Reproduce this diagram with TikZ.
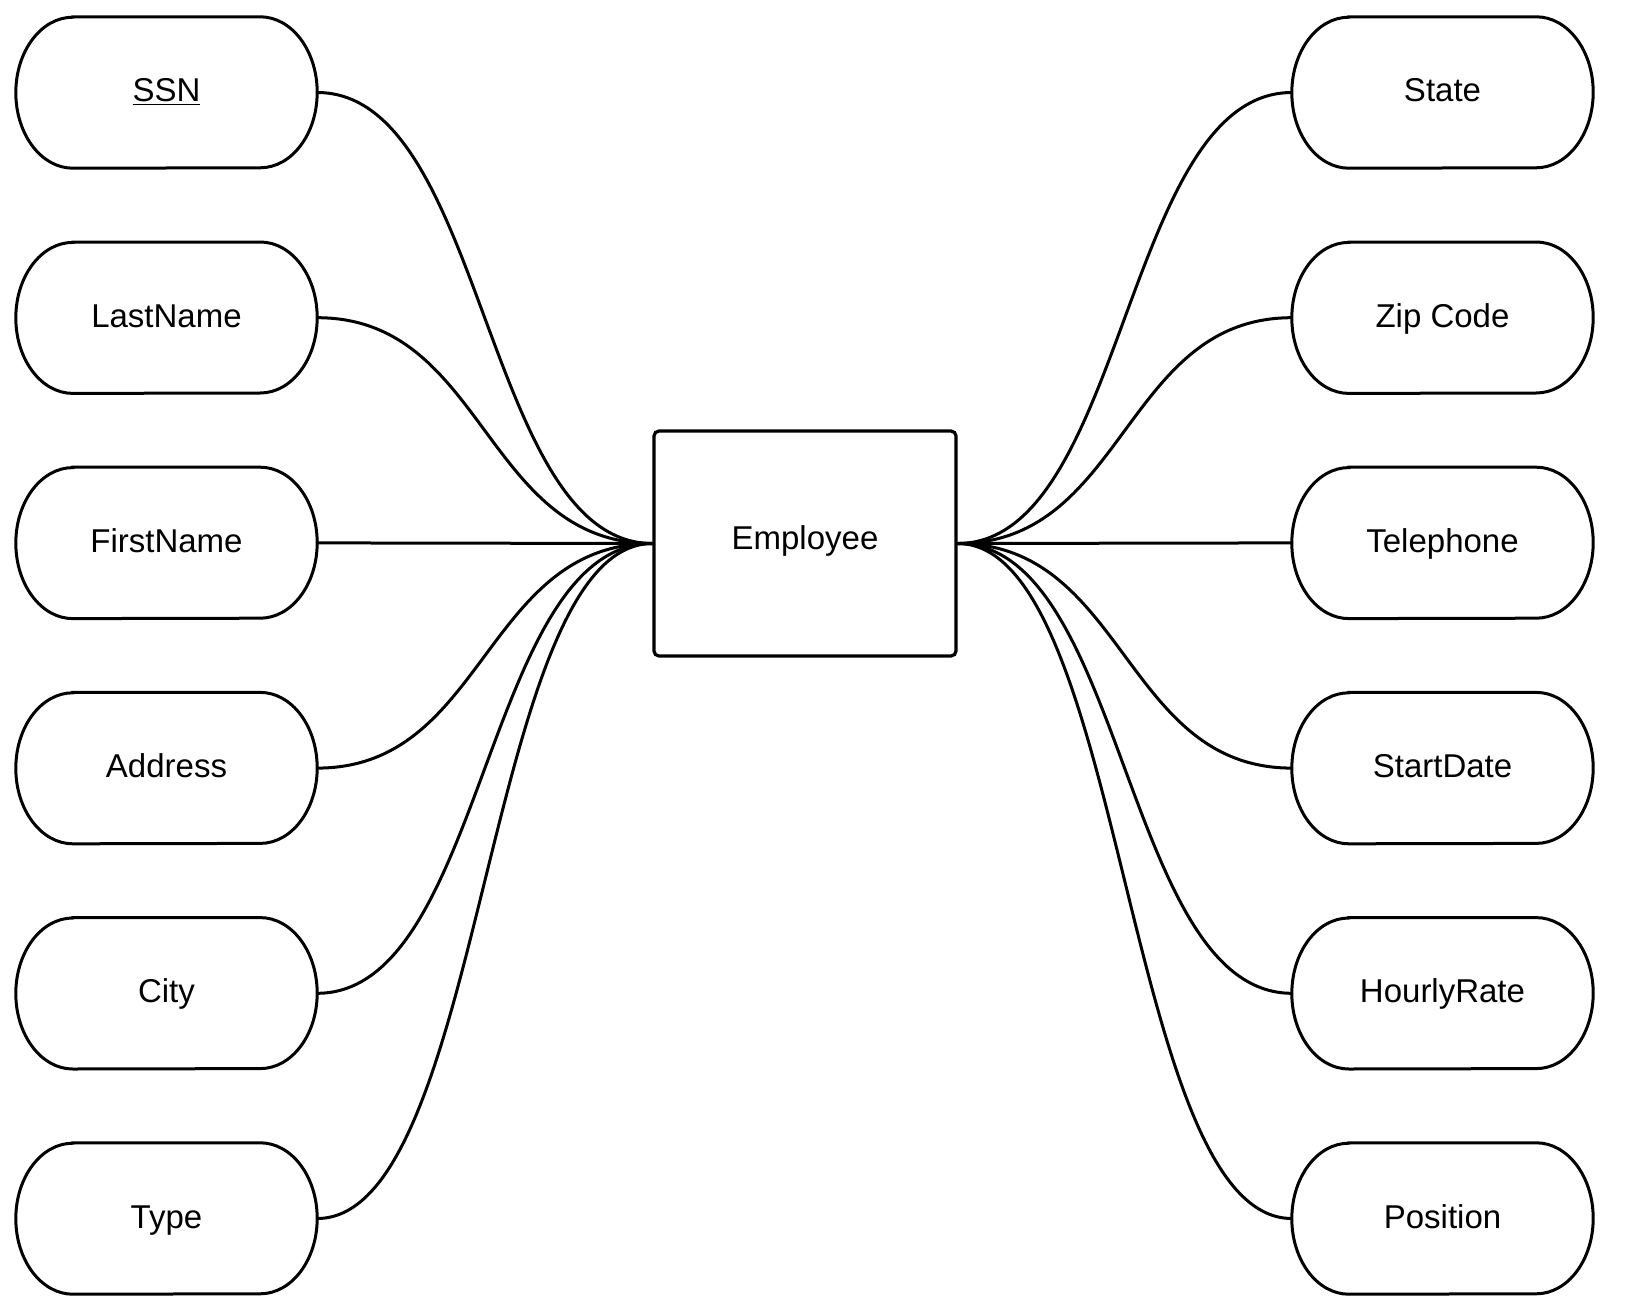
\documentclass[tikz,border=0pt]{standalone}
\usepackage{fontspec}
\setmainfont{Liberation Sans}
\tikzset{
  conn/.style={line width=3pt},
  attrbox/.style={rectangle, minimum width=301pt, minimum height=151pt, inner sep=0pt, text height=24pt, text depth=5pt, font=\fontsize{33}{40}\selectfont},
  attrline/.style={line width=3pt},
  entbox/.style={rectangle, draw, line width=3.2pt, rounded corners=5pt, minimum width=302pt, minimum height=225pt, inner sep=0pt, text height=24pt, text depth=11.5pt, font=\fontsize{33}{40}\selectfont},
}
\newcommand{\attroutline}[1]{\draw[attrline] ([xshift=57pt]#1.north west) -- ([xshift=-57pt]#1.north east) arc[start angle=90,end angle=-90,x radius=57pt,y radius=75.5pt] -- ([xshift=57pt]#1.south west) arc[start angle=270,end angle=90,x radius=57pt,y radius=75.5pt] -- cycle;}
\begin{document}
\begin{tikzpicture}[x=1pt,y=-1pt]
\useasboundingbox (0,0) rectangle (1630,1316);
\node[entbox] (emp) at (805,543.5) {Employee};
% left attributes
\node[attrbox] (ssn) at (166.5,92.5) {\underline{SSN}};
\node[attrbox] (last) at (166.5,317.7) {LastName};
\node[attrbox] (first) at (166.5,542.9) {FirstName};
\node[attrbox] (addr) at (166.5,768.1) {Address};
\node[attrbox] (city) at (166.5,993.3) {City};
\node[attrbox] (type) at (166.5,1218.5) {Type};
% right attributes
\node[attrbox] (state) at (1442.5,92.5) {State};
\node[attrbox] (zip) at (1442.5,317.7) {Zip Code};
\node[attrbox] (tel) at (1442.5,542.9) {Telephone};
\node[attrbox] (start) at (1442.5,768.1) {StartDate};
\node[attrbox] (rate) at (1442.5,993.3) {HourlyRate};
\node[attrbox] (pos) at (1442.5,1218.5) {Position};
\foreach \n in {ssn,last,first,addr,city,type,state,zip,tel,start,rate,pos}{\attroutline{\n}}
\foreach \n in {ssn,last,addr,city,type}{
  \draw[conn] (\n.east) .. controls +(168.5,0) and +(-168.5,0) .. (emp.west);
}
\draw[conn] (first.east) -- (emp.west);
\foreach \n in {state,zip,start,rate,pos}{
  \draw[conn] (emp.east) .. controls +(168,0) and +(-168,0) .. (\n.west);
}
\draw[conn] (emp.east) -- (tel.west);
\end{tikzpicture}
\end{document}
